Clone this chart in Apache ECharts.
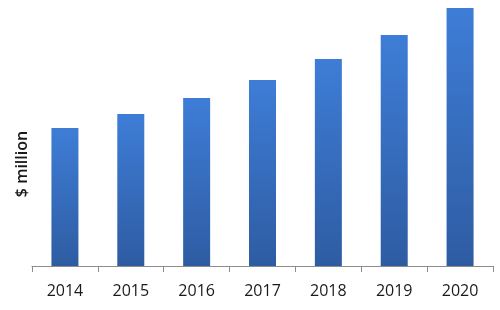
<!DOCTYPE html>
<html><head><meta charset="utf-8">
<script src="https://cdn.jsdelivr.net/npm/echarts@6/dist/echarts.min.js"></script>
<style>html,body{margin:0;padding:0;background:#fff}#c{width:500px;height:310px}</style>
</head><body><div id="c"></div>
<script>
const categories = ['2014','2015','2016','2017','2018','2019','2020'];
const values = [138, 152, 168, 186, 207, 231, 258];
const yAxisTitle = '$ million';

const chart = echarts.init(document.getElementById('c'), null, {renderer:'canvas'});
chart.setOption({
  animation:false,
  grid:{left:32, right:7, top:6, bottom:44},
  xAxis:{type:'category', data:categories,
    axisLine:{lineStyle:{color:'#8c8c8c', width:1}},
    axisTick:{show:true, length:6, lineStyle:{color:'#8c8c8c'}},
    axisLabel:{color:'#1a1a1a', fontSize:16, fontFamily:'Open Sans', margin:17}},
  yAxis:{type:'value', min:0, max:260, show:false, splitLine:{show:false}},
  graphic:[{type:'text', x:22, y:164, rotation:Math.PI/2,
    style:{text:yAxisTitle, font:'600 16px "Open Sans"', fill:'#1a1a1a', textAlign:'center', textVerticalAlign:'middle'}}],
  series:[{type:'bar', data:values, barWidth:27,
    itemStyle:{color:new echarts.graphic.LinearGradient(0,0,0,1,[{offset:0,color:'#3e7dd7'},{offset:1,color:'#2e5ca2'}])}}]
});
</script></body></html>
